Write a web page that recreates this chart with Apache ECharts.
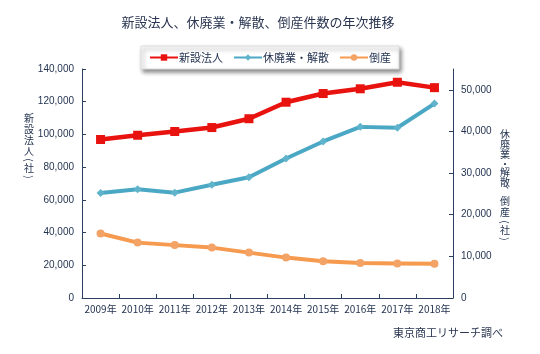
<!DOCTYPE html>
<html><head><meta charset="utf-8">
<script src="https://cdn.jsdelivr.net/npm/echarts@6/dist/echarts.min.js"></script>
<style>html,body{margin:0;padding:0;background:#fff}#c{width:540px;height:354px}</style>
</head><body><div id="c"></div>
<script>
const categories = ['2009年','2010年','2011年','2012年','2013年','2014年','2015年','2016年','2017年','2018年'];
const newCorp = [96900, 99500, 101800, 104200, 109600, 119700, 125000, 127900, 131900, 128600];
const closures = [25200, 26100, 25300, 27200, 29000, 33500, 37600, 41100, 40900, 46700];
const bankrupt = [15500, 13300, 12700, 12100, 10900, 9700, 8800, 8400, 8300, 8200];
const leftTicks = [0,20000,40000,60000,80000,100000,120000,140000];
const rightTicks = [0,10000,20000,30000,40000,50000];
const leftName = ['新','設','法','人','(','社',')'];
const rightName = ['休','廃','業','・','解','散','、','倒','産','(','社',')'];

const FONT = '"Noto Sans CJK JP", "Liberation Sans", sans-serif';
const AX = '#2b3f5f';
const TXT = '#1f2f4d';
const fmt = v => v.toLocaleString('en-US');

// vertical text layout: per-character vertical centres
const leftMid = [118, 129, 140, 151, 160, 168, 177];
const rightMid = [134, 144, 154, 164, 172, 182, 190, 201, 212, 222, 230, 239];
const vtext = (chars, mids, x) => chars.map((c, i) => {
  const paren = (c === '(' || c === ')');
  const comma = (c === '、');
  return {
    type:'text', x: comma ? x + 5 : x, y: comma ? mids[i] - 6 : mids[i],
    rotation: paren ? -Math.PI/2 : 0,
    style:{text:c, font:'10px '+FONT, fill:TXT, textAlign:'center', textVerticalAlign:'middle'}
  };
});

const chart = echarts.init(document.getElementById('c'), null, {renderer:'canvas'});
chart.setOption({
  animation:false,
  backgroundColor:'#fff',
  textStyle:{fontFamily:FONT},
  title:{
    text:'新設法人、休廃業・解散、倒産件数の年次推移',
    left:253, top:11, textAlign:'center',
    textStyle:{fontSize:13, fontWeight:'normal', color:'#2a3550', fontFamily:FONT}
  },
  legend:{
    left:'center', top:46,
    padding:[6,8,6,8],
    backgroundColor:'#fff',
    borderColor:'#ddd', borderWidth:1,
    shadowBlur:4, shadowColor:'rgba(0,0,0,0.45)', shadowOffsetX:2, shadowOffsetY:3,
    itemWidth:28, itemHeight:8, itemGap:10,
    textStyle:{fontSize:11, color:TXT, fontFamily:FONT, padding:[0,0,0,-4]},
    data:['新設法人','休廃業・解散','倒産']
  },
  graphic: vtext(leftName, leftMid, 29).concat(vtext(rightName, rightMid, 505)).concat([
    {type:'text', right:37, top:327, style:{text:'東京商工リサーチ調べ', font:'11px '+FONT, fill:'#2a3550'}}
  ]),
  grid:{left:82, right:87, top:69, bottom:56},
  xAxis:{
    type:'category', data:categories, boundaryGap:true,
    axisLine:{lineStyle:{color:AX, width:1}},
    axisTick:{show:true, inside:true, length:4, alignWithLabel:false, lineStyle:{color:AX}},
    axisLabel:{color:TXT, fontSize:10, margin:6, interval:0, fontFamily:FONT}
  },
  yAxis:[
    {type:'value', min:0, max:140000, interval:20000, position:'left',
     axisLine:{show:true, lineStyle:{color:AX}},
     axisTick:{show:true, inside:true, length:4, lineStyle:{color:AX}},
     axisLabel:{color:TXT, fontSize:10, margin:8, formatter:fmt, fontFamily:'"Liberation Sans", sans-serif', customValues:leftTicks},
     splitLine:{show:false}},
    {type:'value', min:0, max:55000, interval:10000, position:'right',
     axisLine:{show:true, lineStyle:{color:AX}},
     axisTick:{show:true, inside:true, length:4, lineStyle:{color:AX}, customValues:rightTicks},
     axisLabel:{color:TXT, fontSize:10, margin:8, formatter:fmt, fontFamily:'"Liberation Sans", sans-serif', customValues:rightTicks},
     splitLine:{show:false}}
  ],
  series:[
    {name:'新設法人', type:'line', yAxisIndex:0, data:newCorp,
     symbol:'rect', symbolSize:9, showAllSymbol:true,
     lineStyle:{color:'#e8120f', width:4.5}, itemStyle:{color:'#e8120f'}},
    {name:'休廃業・解散', type:'line', yAxisIndex:1, data:closures,
     symbol:'diamond', symbolSize:8, showAllSymbol:true,
     lineStyle:{color:'#4ba8c4', width:4}, itemStyle:{color:'#5fb4cc', borderColor:'#4ba8c4', borderWidth:0}},
    {name:'倒産', type:'line', yAxisIndex:1, data:bankrupt,
     symbol:'circle', symbolSize:8, showAllSymbol:true,
     lineStyle:{color:'#f59a4e', width:4}, itemStyle:{color:'#f3a366'}}
  ]
});
</script></body></html>
